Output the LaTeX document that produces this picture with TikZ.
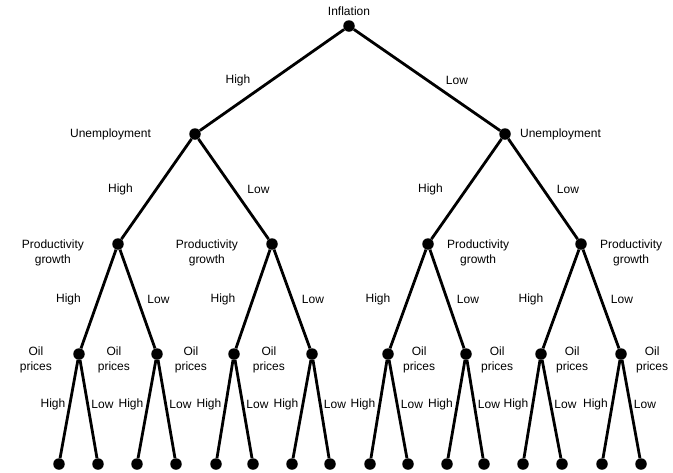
\documentclass[tikz,border=0pt]{standalone}
\usepackage{fontspec}
\setmainfont{Liberation Sans}
\usetikzlibrary{positioning}
\begin{document}
\begin{tikzpicture}[x=1pt, y=-1pt,
    dot/.style={circle, fill, inner sep=0pt, minimum size=11.5pt},
    branch/.style={line width=2.8pt},
    lbl/.style={font=\fontsize{12}{15.5}\selectfont, inner sep=0pt, align=center},
    hi/.style={lbl, midway, xshift=-#1},
    lo/.style={lbl, midway, xshift=#1}]
    \useasboundingbox (0,0) rectangle (673,472);
    % dots, level by level
    \node[dot] (r) at (349,26) {};
    \node[dot] (u1) at (195,134) {}; \node[dot] (u2) at (505,134) {};
    \foreach \x [count=\i] in {118,272,428,581} \node[dot] (p\i) at (\x,244) {};
    \foreach \x [count=\i] in {79,157,234,312,388,466,541,621} \node[dot] (o\i) at (\x,354) {};
    \foreach \x [count=\i] in {59,98,137,176,216,253,292,330,370,408,447,484,523,562,602,641}
        \node[dot] (e\i) at (\x,464) {};
    % branches
    \draw[branch] (r) -- node[hi=34pt] {High} (u1);
    \draw[branch] (r) -- node[lo=30pt] {Low} (u2);
    \foreach \a/\b/\c in {u1/p1/p2, u2/p3/p4} {
        \draw[branch] (\a) -- node[hi=36pt] {High} (\b);
        \draw[branch] (\a) -- node[lo=25pt] {Low} (\c);
    }
    \foreach \i [evaluate=\i as \j using int(2*\i-1), evaluate=\i as \k using int(2*\i)] in {1,...,4} {
        \draw[branch] (p\i) -- node[hi=30pt] {High} (o\j);
        \draw[branch] (p\i) -- node[lo=21pt] {Low} (o\k);
    }
    \foreach \i [evaluate=\i as \j using int(2*\i-1), evaluate=\i as \k using int(2*\i)] in {1,...,8} {
        \draw[branch] (o\i) -- node[hi=16pt, yshift=5pt] {High} (e\j);
        \draw[branch] (o\i) -- node[lo=14pt, yshift=5pt] {Low} (e\k);
    }
    % variable names
    \node[lbl, above=4pt of r] (tr) {Inflation};
    \node[lbl, left=38pt of u1] (tu1) {Unemployment};
    \node[lbl, right=9pt of u2] (tu2) {Unemployment};
    \foreach \i in {1,2} \node[lbl, left=28pt of p\i, yshift=-9pt] (tp\i) {Productivity\\growth};
    \foreach \i in {3,4} \node[lbl, right=13pt of p\i, yshift=-9pt] (tp\i) {Productivity\\growth};
    \foreach \i in {1,...,4} \node[lbl, left=21pt of o\i, yshift=-6pt] (to\i) {Oil\\prices};
    \foreach \i in {5,...,8} \node[lbl, right=9pt of o\i, yshift=-6pt] (to\i) {Oil\\prices};
\end{tikzpicture}
\end{document}
